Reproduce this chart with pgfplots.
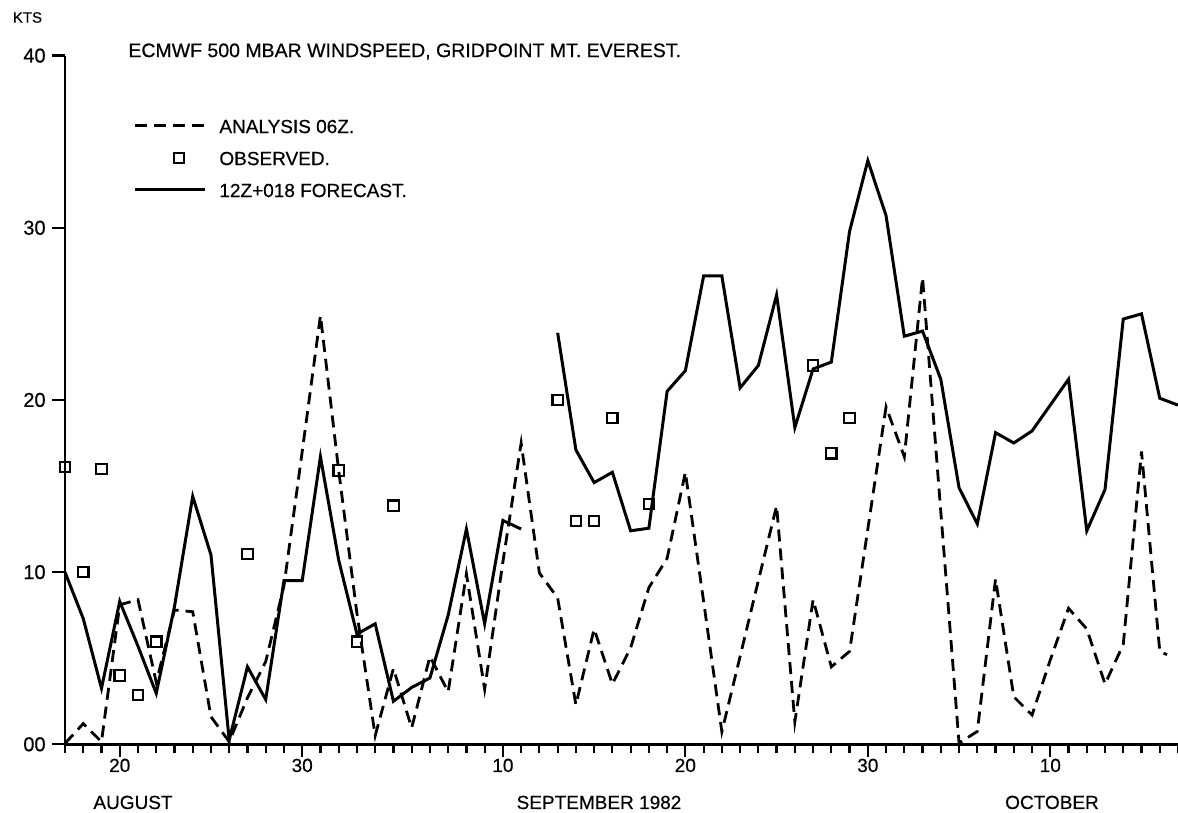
\documentclass[border=0pt]{standalone}
\usepackage{fontspec}
\setmainfont{Liberation Sans}[FakeBold=0.5]
\usepackage{pgfplots}
\pgfplotsset{compat=1.18}
\pgfplotsset{
  linelegend/.style={legend image code/.code={\draw[##1] (0pt,0pt) -- (35pt,0pt);}},
  marklegend/.style={legend image code/.code={\draw[mark repeat=2,mark phase=2,##1] plot coordinates {(0pt,0pt) (22pt,0pt) (44pt,0pt)};}},
}
\begin{document}
\begin{tikzpicture}
\path[use as bounding box] (-32.5pt,-34.35pt) rectangle (556.5pt,372.15pt);
\begin{axis}[
  at={(0pt,0pt)}, anchor=south west,
  scale only axis, width=556.5pt, height=344.35pt,
  xmin=17, xmax=78, ymin=0, ymax=40,
  axis x line=bottom, axis y line=left,
  axis line style={-},
  x axis line style={line width=1.5pt},
  y axis line style={line width=1.2pt},
  clip=false,
  xtick={20,30,41,51,61,71},
  xticklabels={20,30,10,20,30,10},
  minor xtick={17,...,78},
  ytick={0,10,20,30,40},
  yticklabels={00,10,20,30,40},
  tick align=outside,
  major tick length=6.5pt, minor tick length=4.5pt,
  every tick/.style={black, line width=1.1pt},
  xticklabel style={anchor=base, inner sep=0pt, yshift=-7.35pt, font=\fontsize{9.5}{11}\selectfont},
  yticklabel style={anchor=east, inner sep=0pt, xshift=-3pt, font=\fontsize{10}{12}\selectfont},
  unbounded coords=jump,
  legend style={at={(0.0611,0.909)}, anchor=north west, draw=none, fill=none, inner sep=0pt,
    row sep=8.8pt,
    nodes={inner sep=0pt, text height=7.2pt, text depth=0pt, font=\fontsize{9.5}{11}\selectfont},
    /tikz/every odd column/.append style={column sep=6.5pt}},
  legend cell align=left,
]
\addplot[black, line width=1.4pt, dash pattern=on 6pt off 3.5pt, linelegend] coordinates {
(17,0.05) (18,1.2) (19,0.15) (20,8.1) (21,8.4) (22,3.6) (23,7.8) (24,7.7)
(25,1.6) (26,0.15) (27,2.7) (28,4.8) (29,9.2) (30,17.0) (31,24.9) (32,15.9)
(33,7.6) (34,0.5) (35,4.4) (36,0.95) (37,5.1) (38,3.05) (39,9.9) (40,3.2)
(41,10.6) (42,17.5) (43,9.95) (44,8.5) (45,2.3) (46,6.7) (47,3.5) (48,5.6)
(49,9.1) (50,10.8) (51,15.8) (52,8.3) (53,0.73) (54,5.1) (55,9.5) (56,13.85)
(57,1.3) (58,8.4) (59,4.5) (60,5.4) (61,12.5) (62,19.6) (63,16.7) (64,27.1)
(65,13.5) (66,0.07) (67,0.75) (68,9.6) (69,2.76) (70,1.7) (71,4.9) (72,7.9)
(73,6.7) (74,3.5) (75,5.8) (76,17.0) (77,5.4) (77.4,5.2)
};
\addlegendentry{ANALYSIS 06Z.}
\addplot[only marks, mark=square, mark size=2.6pt, black, mark options={line width=1.1pt, solid}, marklegend] coordinates {
(17,16.1) (18,10.0) (19,16.0) (20,4.0) (21,2.86) (22,5.96) (27,11.05) (32,15.9)
(33,5.96) (35,13.86) (44,20.0) (45,12.96) (46,12.96) (47,18.95) (49,13.95)
(58,22.0) (59,16.9) (60,18.94)
};
\addlegendentry{OBSERVED.}
\addplot[black, line width=1.5pt, linelegend] coordinates {
(17,10.0) (18,7.3) (19,3.25) (20,8.3) (21,5.7) (22,2.96) (23,8.0) (24,14.4)
(25,11.0) (26,0.25) (27,4.5) (28,2.6) (29,9.5) (30,9.5) (31,16.7) (32,10.7)
(33,6.4) (34,7.0) (35,2.5) (36,3.3) (37,3.85) (38,7.5) (39,12.5) (40,7.0)
(41,13.0) (42,12.5) (43,nan)
(44,23.9) (45,17.1) (46,15.2) (47,15.8) (48,12.4) (49,12.55) (50,20.5)
(51,21.7) (52,27.2) (53,27.2) (54,20.7) (55,22.0) (56,26.1) (57,18.4)
(58,21.8) (59,22.2) (60,29.8) (61,33.9) (62,30.7) (63,23.7) (64,24.0)
(65,21.2) (66,14.9) (67,12.8) (68,18.1) (69,17.5) (70,18.2) (71,19.7)
(72,21.2) (73,12.4) (74,14.8) (75,24.7) (76,25.0) (77,20.1) (78,19.7)
};
\addlegendentry{12Z+018 FORECAST.}
\end{axis}
\node[anchor=center, inner sep=0pt, font=\fontsize{7.5}{9}\selectfont] at (-18.75pt,363.4pt) {KTS};
\node[anchor=base west, inner sep=0pt, font=\fontsize{9.75}{12}\selectfont] at (31.5pt,343.6pt) {ECMWF 500 MBAR WINDSPEED, GRIDPOINT MT. EVEREST.};
\node[anchor=base, inner sep=0pt, font=\fontsize{9.5}{11}\selectfont] at (34pt,-32.35pt) {AUGUST};
\node[anchor=base, inner sep=0pt, font=\fontsize{9.5}{11}\selectfont] at (267pt,-32.35pt) {SEPTEMBER 1982};
\node[anchor=base, inner sep=0pt, font=\fontsize{9.5}{11}\selectfont] at (493.5pt,-32.35pt) {OCTOBER};
\end{tikzpicture}
\end{document}
